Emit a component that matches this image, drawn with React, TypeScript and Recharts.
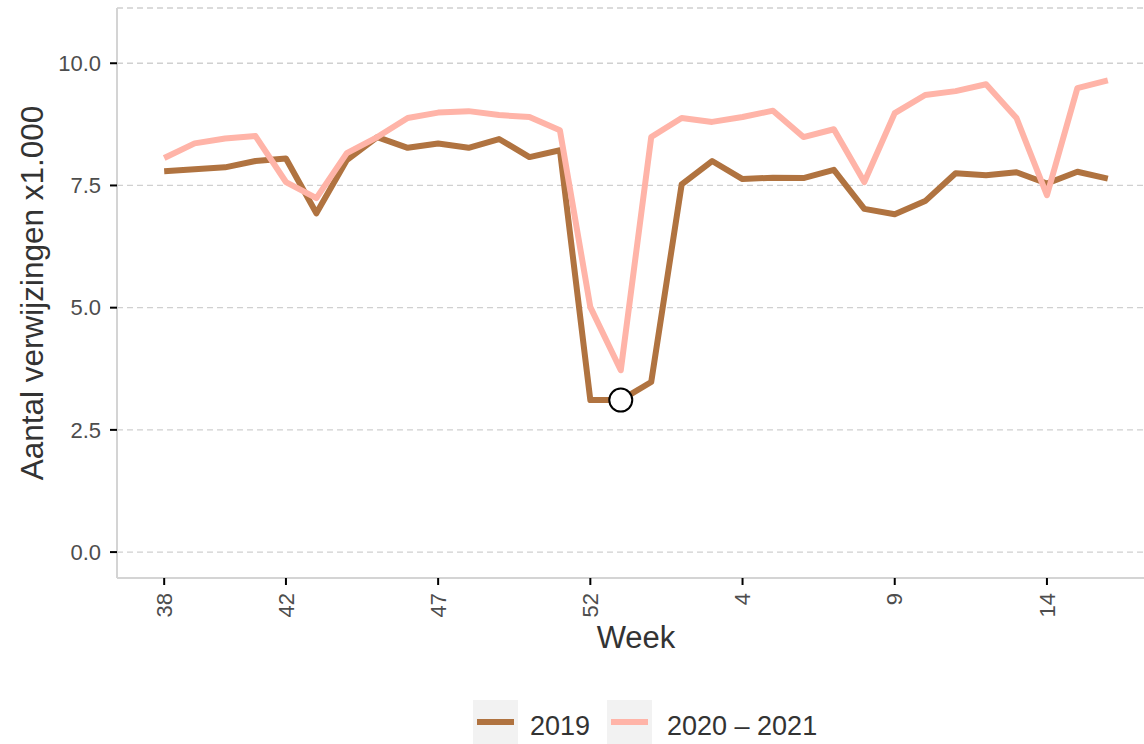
import React from 'react';
import { LineChart, Line, XAxis, YAxis, CartesianGrid, Legend } from 'recharts';

const weeks = ['38','39','40','41','42','43','44','45','46','47','48','49','50','51','52','53','1','2','3','4','5','6','7','8','9','10','11','12','13','14','15','16'];
const s2019 = [7.79, 7.83, 7.87, 8.0, 8.05, 6.93, 8.02, 8.49, 8.27, 8.36, 8.27, 8.45, 8.08, 8.22, 3.11, 3.11, 3.48, 7.52, 8.0, 7.63, 7.66, 7.65, 7.82, 7.02, 6.91, 7.18, 7.75, 7.71, 7.77, 7.54, 7.78, 7.64];
const s2020 = [8.06, 8.36, 8.46, 8.51, 7.57, 7.24, 8.16, 8.49, 8.88, 8.99, 9.02, 8.94, 8.9, 8.63, 5.01, 3.72, 8.49, 8.88, 8.8, 8.9, 9.03, 8.49, 8.65, 7.57, 8.98, 9.35, 9.43, 9.57, 8.88, 7.3, 9.49, 9.65];
const xTicks = [0, 4, 9, 14, 19, 24, 29];
const yTicks = [0, 2.5, 5, 7.5, 10];
const highlightIndex = 15;

const seriesNames = ['2019', '2020 \u2013 2021'];
const COLORS = ['#B07340', '#FFB4A8'];

const data = weeks.map((w, i) => ({ i, week: w, a: s2019[i], b: s2020[i] }));

const FONT = '"Liberation Sans", Arial, Helvetica, sans-serif';

const XTick = (props: any) => {
  const { x, y, payload } = props;
  return (
    <text
      x={x}
      y={y}
      dy="0.35em"
      transform={`rotate(-90, ${x}, ${y})`}
      textAnchor="end"
      fill="#4d4d4d"
      fontSize={22}
      fontFamily={FONT}
    >
      {weeks[payload.value]}
    </text>
  );
};

const YLabel = (props: any) => {
  const vb = props.viewBox || { x: 0, y: 8, width: 117, height: 570 };
  const x = vb.x + 43;
  const y = vb.y + vb.height / 2;
  return (
    <text x={x} y={y} transform={`rotate(-90, ${x}, ${y})`} textAnchor="middle" fill="#333333" fontSize={31.5} fontFamily={FONT}>
      Aantal verwijzingen x1.000
    </text>
  );
};

const XLabel = (props: any) => {
  const vb = props.viewBox || { x: 117, y: 578, width: 1038, height: 80 };
  return (
    <text x={vb.x + vb.width / 2} y={vb.y + 70} textAnchor="middle" fill="#333333" fontSize={31} fontFamily={FONT}>
      Week
    </text>
  );
};

const renderLegend = () => {
  const items = [
    { box: 473, text: 530 },
    { box: 607, text: 667 },
  ];
  return (
    <svg width={1160} height={86} style={{ display: 'block' }}>
      {items.map((it, k) => (
        <g key={k}>
          <rect x={it.box} y={42} width={45} height={44} fill="#f2f2f2" />
          <line x1={it.box + 4} x2={it.box + 41} y1={64} y2={64} stroke={COLORS[k]} strokeWidth={6} />
          <text x={it.text} y={77} fontSize={27} fill="#333333" fontFamily={FONT}>
            {seriesNames[k]}
          </text>
        </g>
      ))}
    </svg>
  );
};

const renderDot = (p: any) => {
  if (p.index === highlightIndex) {
    return <circle key={`d${p.index}`} cx={p.cx} cy={p.cy} r={11.5} fill="#ffffff" stroke="#000000" strokeWidth={2} />;
  }
  return <g key={`d${p.index}`} />;
};

export default function App() {
  return (
    <div style={{ position: 'absolute', left: 0, top: 0, width: 1144, height: 744, overflow: 'hidden', background: '#ffffff' }}>
      <LineChart
        width={1160}
        height={744}
        data={data}
        margin={{ top: 8, right: 5, left: 0, bottom: 0 }}
        style={{ fontFamily: FONT }}
      >
        <CartesianGrid horizontal={true} vertical={false} stroke="#d0d0d0" strokeDasharray="6 4" strokeWidth={1.3} />
        <XAxis
          dataKey="i"
          type="number"
          domain={[-1.55, 32.55]}
          allowDataOverflow
          ticks={xTicks}
          interval={0}
          height={80}
          tickSize={7}
          tickMargin={8}
          tick={<XTick />}
          tickLine={{ stroke: '#000000', strokeWidth: 2 }}
          axisLine={{ stroke: '#d4d4d4', strokeWidth: 2 }}
          label={<XLabel />}
        />
        <YAxis
          type="number"
          domain={[-0.53, 11.13]}
          allowDataOverflow
          ticks={yTicks}
          interval={0}
          width={117}
          tickSize={7}
          tickMargin={9}
          tickFormatter={(v: number) => v.toFixed(1)}
          tick={{ fill: '#4d4d4d', fontSize: 22, fontFamily: FONT }}
          tickLine={{ stroke: '#000000', strokeWidth: 2 }}
          axisLine={{ stroke: '#d4d4d4', strokeWidth: 2 }}
          label={<YLabel />}
        />
        <Legend verticalAlign="bottom" content={renderLegend} wrapperStyle={{ left: 0, bottom: 0, width: 1160, height: 86 }} />
        <Line
          type="linear"
          dataKey="a"
          name={seriesNames[0]}
          stroke={COLORS[0]}
          strokeWidth={6}
          strokeLinejoin="round"
          dot={renderDot}
          activeDot={false}
          isAnimationActive={false}
        />
        <Line
          type="linear"
          dataKey="b"
          name={seriesNames[1]}
          stroke={COLORS[1]}
          strokeWidth={6}
          strokeLinejoin="round"
          dot={false}
          activeDot={false}
          isAnimationActive={false}
        />
      </LineChart>
    </div>
  );
}
